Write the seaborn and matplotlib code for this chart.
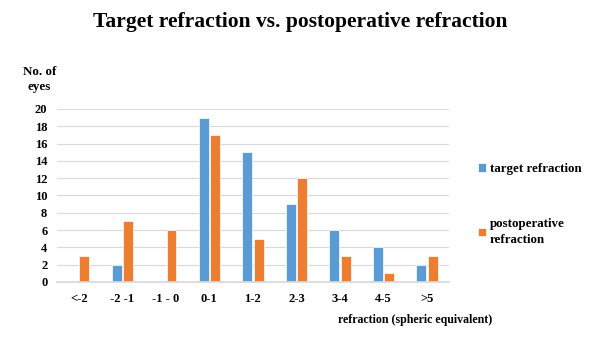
import matplotlib
matplotlib.use("Agg")
import matplotlib.pyplot as plt
import seaborn as sns
import pandas as pd

categories = ["<-2", "-2 -1", "-1 - 0", "0-1", "1-2", "2-3", "3-4", "4-5", ">5"]
target = [0, 2, 0, 19, 15, 9, 6, 4, 2]
postop = [3, 7, 6, 17, 5, 12, 3, 1, 3]
series_names = ["target refraction", "postoperative\nrefraction"]
yticks = list(range(0, 21, 2))

df = pd.DataFrame({
    "cat": categories * 2,
    "val": target + postop,
    "series": [series_names[0]] * len(categories) + [series_names[1]] * len(categories),
})

sns.set_theme(style="white")
plt.rcParams["font.family"] = ["Liberation Serif", "DejaVu Serif"]
plt.rcParams["font.weight"] = "bold"
plt.rcParams["text.color"] = "black"
plt.rcParams["xtick.color"] = "black"
plt.rcParams["ytick.color"] = "black"

fig = plt.figure(figsize=(6, 3.49), dpi=100)
ax = fig.add_axes([0.095, 0.192, 0.653, 0.496])
sns.barplot(data=df, x="cat", y="val", hue="series", order=categories,
            palette=["#5B9BD5", "#ED7D31"], saturation=1, width=0.52, gap=0.12,
            edgecolor="white", linewidth=0.5, ax=ax, legend=True)
ax.set_ylim(0, 20)
ax.set_yticks(yticks)
ax.set_yticklabels([str(t) for t in yticks], fontsize=9, fontweight="bold")
ax.set_xticks(range(len(categories)))
ax.set_xticklabels(categories, fontsize=9, fontweight="bold")
ax.tick_params(axis="x", pad=8, length=0)
ax.tick_params(axis="y", pad=7, length=0)
ax.yaxis.grid(True, color="#D9D9D9", linewidth=0.8)
ax.set_axisbelow(True)
for s in ["top", "right", "left"]:
    ax.spines[s].set_visible(False)
ax.spines["bottom"].set_color("#D9D9D9")
ax.set_xlabel("")
ax.set_ylabel("")
ax.set_xlim(-0.5, len(categories) - 0.5)

handles, labels = ax.get_legend_handles_labels()
leg = ax.legend(handles, labels, loc="upper left", bbox_to_anchor=(0.777, 0.566),
                bbox_transform=fig.transFigure, frameon=False,
                prop={"weight": "bold", "size": 9.3, "family": "Liberation Serif"},
                handlelength=0.6, handleheight=0.6, handletextpad=0.35,
                labelspacing=3.3)
for t in leg.get_texts():
    t.set_linespacing(1.45)

fig.text(0.5, 0.937, "Target refraction vs. postoperative refraction",
         ha="center", va="center", fontsize=15.5, fontweight="bold")
fig.text(0.066, 0.772, "No. of\neyes", ha="center", va="center",
         fontsize=9.4, fontweight="bold", linespacing=1.4)
fig.text(0.692, 0.083, "refraction (spheric equivalent)", ha="center",
         va="center", fontsize=8.6, fontweight="bold")

fig.savefig("out.png", dpi=100)
